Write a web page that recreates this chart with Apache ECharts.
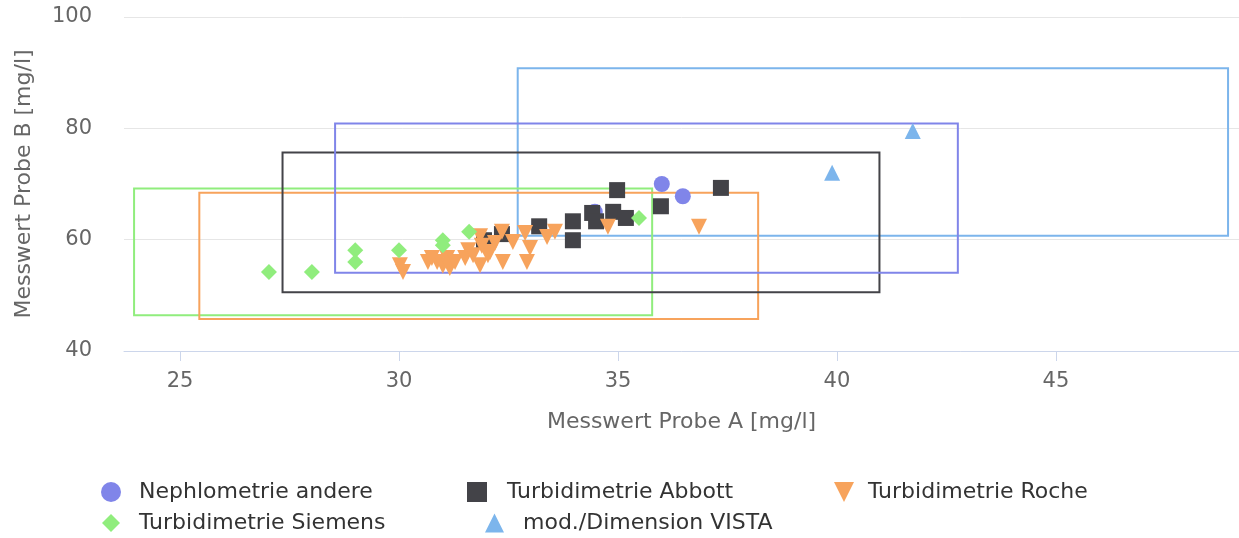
<!DOCTYPE html>
<html>
<head>
<meta charset="utf-8">
<script src="https://cdn.jsdelivr.net/npm/echarts@6/dist/echarts.min.js"></script>
<style>
  html, body { margin: 0; padding: 0; background: #ffffff; }
  #chart { width: 1239px; height: 538px; }
</style>
</head>
<body>
<div id="chart"></div>
<script>
// Axis ticks
const xTicks = [25, 30, 35, 40, 45];
const yTicks = [40, 60, 80, 100];

// Series names
const seriesNames = [
  'Nephlometrie andere',
  'Turbidimetrie Abbott',
  'Turbidimetrie Roche',
  'Turbidimetrie Siemens',
  'mod./Dimension VISTA'
];

// Measurements [Probe A, Probe B] in mg/l
const nephlometrie = [[34.47, 65.0], [36.0, 70.0], [36.48, 67.8]];
const abbott = [
  [34.98, 68.9], [35.98, 66.0], [37.35, 69.3], [33.97, 63.3], [33.97, 59.9],
  [34.41, 64.8], [34.50, 63.3], [34.89, 65.0], [35.18, 63.9], [33.20, 62.4],
  [31.94, 59.9], [32.35, 61.0]
];
const roche = [
  [30.02, 55.4], [30.09, 54.2], [30.66, 56.0], [30.75, 56.7], [30.87, 56.0],
  [31.00, 55.3], [31.10, 56.7], [31.16, 54.9], [31.28, 56.0], [31.51, 56.7],
  [31.58, 58.1], [31.69, 57.2], [31.85, 55.4], [31.89, 58.9], [31.85, 60.6],
  [32.03, 57.2], [32.08, 57.8], [32.19, 59.4], [32.35, 61.4], [32.37, 56.0],
  [32.60, 59.6], [32.88, 61.2], [32.92, 56.0], [32.99, 58.5], [33.38, 60.5],
  [33.56, 61.4], [34.77, 62.3], [36.85, 62.3]
];
const siemens = [
  [27.03, 54.2], [28.01, 54.2], [29.0, 58.1], [29.0, 56.0], [30.0, 58.1],
  [31.0, 59.9], [31.0, 59.0], [31.6, 61.4], [35.48, 63.9]
];
const vista = [[39.89, 72.0], [41.73, 79.5]];

// Range boxes per method: [xFrom, yFrom, xTo, yTo]
const boxNephlometrie = [28.54, 54.06, 42.76, 80.88];
const boxAbbott = [27.34, 50.54, 40.97, 75.67];
const boxRoche = [25.44, 45.74, 38.20, 68.42];
const boxSiemens = [23.95, 46.41, 35.78, 69.21];
const boxVista = [32.71, 60.70, 48.93, 90.81];

const palette = ['#8085e9', '#434348', '#f7a35c', '#90ed7d', '#7cb5ec'];
const FONT = 'DejaVu Sans';
const triangleDown = 'path://M0,0L20,0L10,20Z';

function boxSeries(box, color) {
  return {
    type: 'custom',
    z: 1,
    silent: true,
    clip: false,
    data: [box],
    renderItem: function (params, api) {
      const p1 = api.coord([api.value(0), api.value(1)]);
      const p2 = api.coord([api.value(2), api.value(3)]);
      return {
        type: 'rect',
        shape: {
          x: Math.min(p1[0], p2[0]),
          y: Math.min(p1[1], p2[1]),
          width: Math.abs(p2[0] - p1[0]),
          height: Math.abs(p2[1] - p1[1])
        },
        style: { fill: 'none', stroke: color, lineWidth: 2 }
      };
    }
  };
}

function scatter(name, data, color, symbol, size) {
  return {
    name: name,
    type: 'scatter',
    z: 3,
    data: data,
    symbol: symbol,
    symbolSize: size,
    itemStyle: { color: color, opacity: 1 },
    emphasis: { disabled: true }
  };
}

function legendItem(name, left, top, size, pad) {
  return {
    data: [name],
    left: left,
    top: top,
    padding: 0,
    itemWidth: size,
    itemHeight: size,
    selectedMode: false,
    textStyle: { fontFamily: FONT, fontSize: 22, color: '#333333', padding: [0, 0, 0, pad] }
  };
}

const chart = echarts.init(document.getElementById('chart'), null, { renderer: 'canvas' });

chart.setOption({
  animation: false,
  backgroundColor: '#ffffff',
  grid: { left: 124, right: 0, top: 17, bottom: 187, containLabel: false },
  xAxis: {
    type: 'value',
    min: 23.72,
    max: 49.18,
    name: 'Messwert Probe A [mg/l]',
    nameLocation: 'middle',
    nameGap: 60,
    nameTextStyle: { fontFamily: FONT, fontSize: 22, color: '#666666' },
    axisLine: { show: true, lineStyle: { color: '#ccd6eb', width: 1 } },
    axisTick: { show: true, length: 10, lineStyle: { color: '#ccd6eb' }, customValues: xTicks },
    axisLabel: { fontFamily: FONT, fontSize: 21, color: '#666666', margin: 20, customValues: xTicks },
    splitLine: { show: false }
  },
  yAxis: {
    type: 'value',
    min: yTicks[0],
    max: yTicks[yTicks.length - 1],
    interval: 20,
    name: 'Messwert Probe B [mg/l]',
    nameLocation: 'middle',
    nameGap: 89,
    nameTextStyle: { fontFamily: FONT, fontSize: 22, color: '#666666' },
    axisLine: { show: false },
    axisTick: { show: false },
    axisLabel: { fontFamily: FONT, fontSize: 21, color: '#666666', margin: 32 },
    splitLine: { show: true, lineStyle: { color: '#e6e6e6', width: 1 } }
  },
  legend: [
    legendItem(seriesNames[0], 101, 481, 20, 13),
    legendItem(seriesNames[1], 467, 481, 20, 15),
    legendItem(seriesNames[2], 834, 481, 20, 9),
    legendItem(seriesNames[3], 102, 512, 18, 14),
    legendItem(seriesNames[4], 485, 512, 19, 14)
  ],
  series: [
    boxSeries(boxVista, palette[4]),
    boxSeries(boxSiemens, palette[3]),
    boxSeries(boxRoche, palette[2]),
    boxSeries(boxAbbott, palette[1]),
    boxSeries(boxNephlometrie, palette[0]),
    scatter(seriesNames[0], nephlometrie, palette[0], 'circle', 16),
    scatter(seriesNames[1], abbott, palette[1], 'rect', 16),
    scatter(seriesNames[2], roche, palette[2], triangleDown, 16),
    scatter(seriesNames[3], siemens, palette[3], 'diamond', 16),
    scatter(seriesNames[4], vista, palette[4], 'triangle', 16)
  ]
});
</script>
</body>
</html>
